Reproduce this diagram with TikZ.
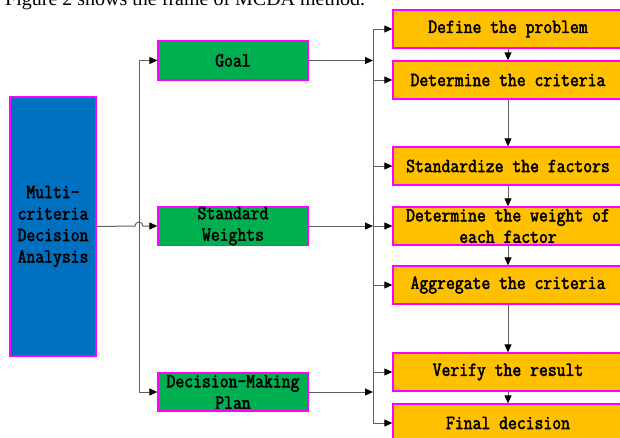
\documentclass[tikz,border=0pt]{standalone}
\usepackage{fontspec}
\usetikzlibrary{arrows.meta}
\newfontfamily\boxfont[FakeStretch=0.86,FakeBold=2.4]{Latin Modern Mono}
\newfontfamily\headfont{Liberation Serif}
\definecolor{mblue}{HTML}{0070C0}
\definecolor{mgreen}{HTML}{00B050}
\definecolor{morange}{HTML}{FFC000}
\definecolor{mmag}{HTML}{FF00FF}
\definecolor{mline}{HTML}{606060}
\tikzset{
  box/.style={draw=mmag, line width=1.3pt, inner sep=0pt, align=center,
    font=\boxfont\fontsize{20}{21.5}\selectfont},
  bluebox/.style={box, fill=mblue, minimum width=86pt, minimum height=259pt},
  greenbox/.style={box, fill=mgreen, minimum width=150pt, minimum height=38pt},
  orangebox/.style={box, fill=morange, minimum width=230pt, minimum height=38pt},
  conn/.style={draw=mline, line width=1pt},
  arr/.style={conn, -{Triangle[length=8pt,width=7pt,black]}},
}
\begin{document}
\begin{tikzpicture}[x=1pt,y=-1pt]
\useasboundingbox (0,0) rectangle (620,437);
\node[anchor=base west, inner sep=0pt, font=\headfont\fontsize{20}{24}\selectfont] (head) at (5,5) {Figure 2 shows the frame of MCDA method.};
\node[bluebox] (mcda) at (53,226.5) {Multi-\\criteria\\Decision\\Analysis};
\node[greenbox, minimum height=39pt] (goal) at (233,60.5) {Goal};
\node[greenbox] (sw) at (233,226) {Standard\\Weights};
\node[greenbox] (dmp) at (233,392) {Decision-Making\\Plan};
\node[orangebox] (o1) at (508,29) {Define the problem};
\node[orangebox] (o2) at (508,80) {Determine the criteria};
\node[orangebox] (o3) at (508,166) {Standardize the factors};
\node[orangebox] (o4) at (508,226) {Determine the weight of\\each factor};
\node[orangebox] (o5) at (508,285) {Aggregate the criteria};
\node[orangebox] (o6) at (508,372) {Verify the result};
\node[orangebox] (o7) at (508,423) {Final decision};
\coordinate (Lx) at (139,0);
\coordinate (Rx) at (373,0);
% left distribution line
\draw[conn] (goal.west -| Lx) -- (dmp.west -| Lx);
\draw[arr] (goal.west -| Lx) -- (goal.west);
\draw[arr] (dmp.west -| Lx) -- (dmp.west);
\draw[arr] (mcda.east) -- ([xshift=-4pt]sw.west -| Lx) arc[start angle=180, end angle=0, radius=4pt] -- (sw.west);
% right distribution line
\draw[conn] (o1.west -| Rx) -- (o7.west -| Rx);
\draw[arr] (goal.east) -- (goal.east -| Rx);
\draw[arr] (sw.east) -- (sw.east -| Rx);
\draw[arr] (dmp.east) -- (dmp.east -| Rx);
\foreach \n in {o1,o2,o3,o4,o5,o6,o7}{
  \draw[arr] (\n.west -| Rx) -- (\n.west);
}
% sequence
\draw[arr] (o1.south) -- (o2.north);
\draw[arr] (o2.south) -- (o3.north);
\draw[arr] (o3.south) -- (o4.north);
\draw[arr] (o4.south) -- (o5.north);
\draw[arr] (o5.south) -- (o6.north);
\draw[arr] (o6.south) -- (o7.north);
\end{tikzpicture}
\end{document}
